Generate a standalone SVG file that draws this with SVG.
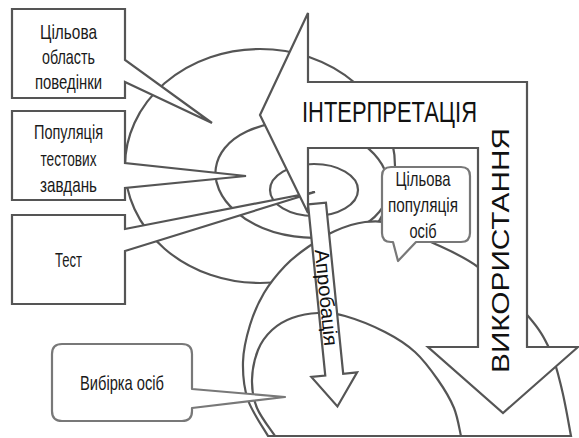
<svg xmlns="http://www.w3.org/2000/svg" width="579" height="438" viewBox="0 0 579 438">
<style>
.ln{fill:none;stroke:#555;stroke-width:2.2}
.sh{fill:#fff;stroke:#555;stroke-width:2.2;stroke-linejoin:miter}
.rb{fill:#fff;stroke:#787878;stroke-width:2.2;stroke-linejoin:round}
.t{font-family:"Liberation Sans",Arial,sans-serif;font-size:21px;fill:#1a1a1a;text-anchor:middle}
.big{font-family:"Liberation Sans",Arial,sans-serif;fill:#111}
</style>
<rect width="579" height="438" fill="#fff"/>
<g id="domains">
<ellipse id="target-domain" class="ln" cx="260" cy="166" rx="135" ry="117"/>
<ellipse id="universe" class="ln" cx="302" cy="180" rx="87" ry="57" transform="rotate(8 302 180)"/>
<ellipse id="test-ellipse" class="ln" cx="314" cy="190" rx="44" ry="26"/>
<path id="target-population" class="sh" d="M268,436 C264.7,430 252.2,412.3 248,400 C243.8,387.7 242.7,374.5 243,362 C243.3,349.5 246.5,336.5 250,325 C253.5,313.5 258.2,302.8 264,293 C269.8,283.2 277.7,273.7 285,266 C292.3,258.3 299.7,252.8 308,247 C316.3,241.2 325.5,235.2 335,231 C344.5,226.8 355,223.2 365,222 C375,220.8 384.7,221 395,224 C405.3,227 413.2,232.8 427,240 C440.8,247.2 461.2,254.3 478,267 C494.8,279.7 516,302.2 528,316 C540,329.8 544.3,337.7 550,350 C555.7,362.3 558.5,375.7 562,390 C565.5,404.3 569.5,428.3 571,436 Z"/>
<path id="sample" class="sh" d="M275,436 C272,431.3 260.8,417.3 257,408 C253.2,398.7 251.8,389.7 252,380 C252.2,370.3 254.7,358.3 258,350 C261.3,341.7 266.3,335.3 272,330 C277.7,324.7 284.3,320.8 292,318 C299.7,315.2 309.2,313.3 318,313 C326.8,312.7 333.8,312.8 345,316 C356.2,319.2 373.3,326 385,332 C396.7,338 406.2,344 415,352 C423.8,360 431.5,370.7 438,380 C444.5,389.3 450.2,398.7 454,408 C457.8,417.3 459.8,431.3 461,436 Z"/>
</g>
<g id="node-domain">
<path class="sh" d="M12,9 H125 V60 L212,123 L125,82 V98 H12 Z"/>
<text class="t" x="68.5" y="38.5" textLength="57" lengthAdjust="spacingAndGlyphs">Цільова</text>
<text class="t" x="68.5" y="64" textLength="53" lengthAdjust="spacingAndGlyphs">область</text>
<text class="t" x="68.5" y="88.5" textLength="67" lengthAdjust="spacingAndGlyphs">поведінки</text>
</g>
<g id="node-universe">
<path class="sh" d="M12,111 H125 V163 L246,176 L125,188 V200 H12 Z"/>
<text class="t" x="68.5" y="139" textLength="69" lengthAdjust="spacingAndGlyphs">Популяція</text>
<text class="t" x="68.5" y="165.5" textLength="56" lengthAdjust="spacingAndGlyphs">тестових</text>
<text class="t" x="68.5" y="191.5" textLength="57" lengthAdjust="spacingAndGlyphs">завдань</text>
</g>
<g id="node-test">
<path class="sh" d="M12,215 H125 V229 L315,192 L125,251 V304 H12 Z"/>
<text class="t" x="68.5" y="266.5" textLength="27" lengthAdjust="spacingAndGlyphs">Тест</text>
</g>
<g id="connectors">
<g id="interpretation-use">
<path class="sh" d="M260,115 L308,13 L308,82 L527,82 L527,347 L578,347 L503,413 L428,347 L478,347 L478,148 L308,148 L308,213 Z"/>
<text class="big" x="302" y="122" font-size="30" textLength="175" lengthAdjust="spacingAndGlyphs">ІНТЕРПРЕТАЦІЯ</text>
<text class="big" transform="translate(509,373) rotate(-90)" font-size="24" textLength="245" lengthAdjust="spacingAndGlyphs">ВИКОРИСТАННЯ</text>
</g>
<g id="approbation" transform="translate(317,203.5) rotate(-5.75)">
<path class="sh" d="M-9,0 H9 V172 H23 L0,204 L-23,172 H-9 Z"/>
<text class="big" transform="translate(-7,46) rotate(90)" font-size="20" textLength="97" lengthAdjust="spacingAndGlyphs">Апробація</text>
</g>
</g>
<g id="node-population">
<path class="rb" d="M391,167 H461 Q470,167 470,176 V233 Q470,242 461,242 H416 L398,261 L393,242 H391 Q382,242 382,233 V176 Q382,167 391,167 Z"/>
<text class="t" x="423" y="186" textLength="55" lengthAdjust="spacingAndGlyphs">Цільова</text>
<text class="t" x="423" y="212" textLength="70" lengthAdjust="spacingAndGlyphs">популяція</text>
<text class="t" x="423" y="238" textLength="27" lengthAdjust="spacingAndGlyphs">осіб</text>
</g>
<g id="node-sample">
<path class="rb" d="M62,344 H182 Q192,344 192,354 V389 L285,397 L192,408 V411 Q192,421 182,421 H62 Q52,421 52,411 V354 Q52,344 62,344 Z"/>
<text class="t" x="122" y="390" textLength="84" lengthAdjust="spacingAndGlyphs">Вибірка осіб</text>
</g>
</svg>
